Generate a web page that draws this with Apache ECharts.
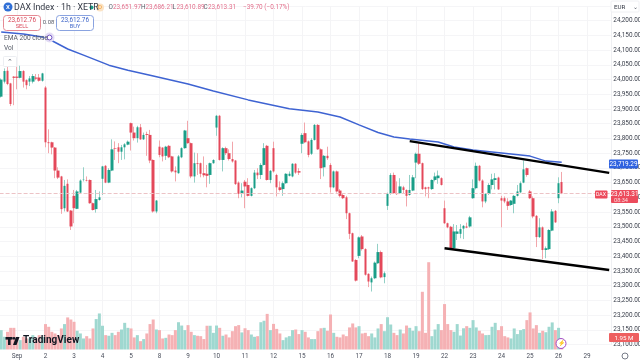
<!DOCTYPE html>
<html lang="en" style="height: 100%">
<head>
  <meta charset="utf-8">
</head>
<body style="height: 100%; margin: 0; background: #fff">
  <div id="container" style="width: 640px; height: 362px"></div>

  <script type="text/javascript" src="https://cdn.jsdelivr.net/npm/echarts@6/dist/echarts.min.js"></script>

  <script type="text/javascript">
    // hourly candles, 29 Aug to 26 Sep
    const opens = [23942,23993,24030,23987,24010,24010,24006,24029,23998,23993,23993,24007,24007,23996,23973,23787,23787,23769,23691,23671,23563,23646,23555,23605,23561,23616,23659,23658,23659,23580,23560,23591,23663,23707,23650,23691,23767,23770,23755,23770,23779,23852,23820,23801,23838,23797,23815,23812,23727,23552,23772,23769,23741,23775,23739,23691,23682,23736,23767,23801,23784,23671,23716,23716,23682,23680,23676,23716,23837,23877,23727,23767,23750,23730,23725,23650,23612,23653,23642,23605,23631,23684,23676,23710,23775,23659,23767,23676,23634,23628,23648,23673,23671,23714,23689,23782,23818,23790,23748,23795,23846,23763,23702,23741,23710,23634,23688,23623,23608,23600,23546,23478,23387,23401,23467,23424,23340,23311,23325,23376,23414,23329,23571,23612,23676,23614,23614,23634,23625,23608,23623,23718,23748,23716,23634,23634,23628,23659,23665,23665,23563,23512,23500,23427,23476,23476,23494,23501,23501,23597,23631,23707,23657,23586,23612,23642,23659,23667,23597,23597,23586,23574,23578,23605,23617,23650,23699,23620,23597,23537,23465,23498,23421,23424,23487,23554,23597,23651.97];
    const closes = [24000,24029,23985,23917,24006,24006,24029,23993,23981,24004,24012,24003,23996,24021,23787,23784,23769,23691,23667,23560,23639,23552,23501,23563,23620,23657,23660,23656,23580,23557,23594,23600,23705,23650,23693,23763,23765,23755,23770,23780,23789,23820,23801,23838,23797,23812,23812,23725,23552,23589,23744,23739,23772,23736,23688,23685,23739,23767,23827,23784,23671,23716,23713,23680,23675,23673,23716,23727,23877,23727,23767,23750,23730,23722,23645,23612,23623,23637,23605,23631,23684,23675,23710,23767,23659,23690,23688,23634,23625,23648,23680,23680,23714,23684,23684,23812,23787,23744,23795,23846,23763,23699,23741,23733,23634,23688,23620,23605,23597,23546,23476,23382,23317,23464,23424,23337,23314,23325,23378,23414,23328,23342,23612,23676,23614,23611,23637,23625,23605,23625,23668,23748,23714,23628,23628,23630,23659,23671,23674,23642,23512,23498,23427,23484,23484,23492,23503,23497,23532,23631,23707,23657,23586,23612,23642,23661,23665,23627,23589,23586,23571,23589,23605,23620,23648,23695,23676,23597,23535,23465,23498,23421,23427,23489,23552,23515,23648,23613.31];
    const lows = [23939,23987,23981,23910,23913,23967,24004,23973,23967,23978,23987,23998,23993,23993,23770,23750,23746,23665,23662,23544,23552,23550,23489,23512,23560,23614,23654,23654,23578,23555,23548,23589,23608,23648,23648,23689,23727,23716,23727,23729,23777,23759,23793,23786,23795,23795,23741,23716,23548,23546,23736,23722,23727,23733,23684,23654,23680,23733,23765,23782,23665,23650,23676,23668,23668,23634,23646,23714,23809,23725,23688,23744,23725,23718,23642,23597,23600,23563,23603,23603,23628,23662,23662,23708,23657,23648,23684,23603,23620,23605,23646,23671,23668,23680,23676,23750,23784,23736,23744,23793,23761,23662,23671,23727,23616,23631,23616,23600,23594,23526,23458,23381,23314,23393,23419,23334,23295,23280,23322,23374,23325,23308,23557,23609,23612,23608,23612,23614,23569,23606,23621,23665,23710,23625,23603,23597,23625,23654,23646,23640,23509,23495,23426,23425,23455,23461,23458,23495,23497,23595,23627,23654,23566,23580,23608,23627,23627,23625,23498,23580,23557,23571,23546,23603,23614,23648,23670,23594,23529,23431,23462,23390,23393,23421,23485,23513,23580,23610.89];
    const highs = [24004,24038,24049,23989,24012,24044,24047,24032,24001,24012,24019,24019,24019,24023,23978,23831,23789,23771,23702,23673,23659,23661,23557,23625,23625,23661,23702,23671,23661,23582,23625,23620,23707,23710,23699,23797,23790,23784,23778,23784,23793,23854,23840,23843,23849,23820,23823,23829,23729,23591,23793,23770,23775,23778,23741,23705,23744,23770,23829,23860,23786,23752,23750,23718,23739,23710,23718,23729,23880,23880,23770,23772,23763,23789,23727,23654,23648,23659,23665,23634,23693,23699,23716,23784,23778,23693,23789,23680,23654,23654,23682,23688,23716,23716,23699,23818,23854,23793,23801,23849,23849,23766,23744,23772,23716,23691,23691,23628,23614,23605,23548,23480,23390,23467,23472,23427,23342,23331,23382,23442,23419,23348,23616,23682,23684,23654,23665,23639,23627,23676,23676,23752,23784,23718,23636,23636,23661,23684,23691,23668,23589,23514,23503,23509,23506,23509,23506,23514,23537,23661,23718,23710,23661,23614,23648,23680,23682,23670,23605,23603,23597,23591,23608,23642,23654,23725,23701,23625,23603,23540,23529,23501,23433,23492,23560,23557,23668,23686.21];
    // volume in millions
    const volumes = [9.3,6.1,8.5,10.4,10.4,6.1,4.5,6.1,5.3,5.3,6.9,5.3,6.9,6.1,12.2,10.9,8.5,7.7,6.9,10.1,12.2,15.4,14.4,13.3,9.0,7.7,5.3,6.4,5.3,10.1,14.6,17.3,11.4,6.9,6.6,8.0,6.9,8.5,9.6,12.8,10.4,10.1,5.8,6.9,4.0,5.0,7.7,12.2,14.4,9.6,9.3,5.3,5.6,7.2,6.9,9.3,13.1,11.5,9.3,11.7,8.5,6.9,6.6,6.4,5.0,11.4,11.4,8.0,11.5,10.4,6.6,7.2,5.8,8.8,11.2,11.7,8.2,10.2,9.3,7.2,6.1,6.4,13.1,13.8,17.1,9.3,12.3,9.9,7.7,4.5,5.8,6.4,9.3,9.6,7.4,9.3,8.5,5.8,5.0,5.0,8.8,10.2,10.4,9.0,16.8,8.0,6.1,5.8,7.2,6.4,10.6,12.5,10.6,11.2,7.7,8.0,6.4,7.7,5.8,10.1,12.2,8.8,15.5,12.0,8.0,6.9,9.6,7.7,11.5,10.4,9.0,11.2,8.8,27.7,8.0,41.9,6.4,9.6,12.2,9.3,21.8,12.2,9.3,8.5,12.2,6.7,10.2,11.2,10.4,14.1,10.6,9.0,7.7,6.9,7.0,10.9,12.8,9.3,11.2,6.4,5.8,5.3,10.1,7.4,9.3,9.8,14.1,17.8,10.1,11.7,8.0,9.0,8.3,10.9,13.0,9.3,10.4,1.95];
    const emaIdx = [0,7,13,15,21,26,34,40,47,59,67,78,91,100,107,113,119,124,129,138,143,149,161,167,172,177];
    const emaVals = [24162,24155,24145,24138,24104,24083,24049,24032,24015,23985,23961,23931,23901,23890,23873,23846,23820,23805,23798,23788,23771,23761,23747,23740,23723,23719.29];
    // first bar of each session, and the label under it
    const tickIdx = [5,14,23,32,41,50,59,68,77,86,95,104,113,122,131,140,149,158,167,176,185];
    const tickText = ['Sep','2','3','4','5','8','9','10','11','12','15','16','17','18','19','22','23','24','25','26','29'];
    const channelTop = [[129,23791],[192,23683]];
    const channelBottom = [[140,23427],[192,23353]];
    const slotCount = 193;

    const FONT = 'Roboto';
    const UP = '#1a9e88', DOWN = '#e4485a';

    const categories = [];
    for (let i = 0; i < slotCount; i++) {
      const k = tickIdx.indexOf(i);
      categories.push(k >= 0 ? tickText[k] : '');
    }
    const isTick = (i, v) => v !== '';

    const wicks = opens.map((o, i) => [o, closes[i], lows[i], highs[i]]);
    const bodies = opens.map((o, i) => [o, closes[i], Math.min(o, closes[i]), Math.max(o, closes[i])]);
    const volBars = volumes.map((v, i) => ({
      value: v,
      itemStyle: { color: closes[i] >= opens[i] ? '#9fd8d0' : '#f5b1b4' }
    }));
    const emaLine = emaIdx.map((x, i) => [x, emaVals[i]]);

    function txt(x, y, text, fill, size, extra) {
      return {
        type: 'text', x: x, y: y, z: 50, silent: true,
        style: Object.assign({ text: text, fill: fill, fontFamily: FONT, fontSize: size, textVerticalAlign: 'middle' }, extra || {})
      };
    }
    function box(x, y, w, h, fill, stroke, r, z) {
      return {
        type: 'rect', z: z || 49, silent: true,
        shape: { x: x, y: y, width: w, height: h, r: r || 0 },
        style: { fill: fill, stroke: stroke || null, lineWidth: 1 }
      };
    }
    function dot(x, y, r, fill, stroke) {
      return { type: 'circle', z: 49, silent: true, shape: { cx: x, cy: y, r: r }, style: { fill: fill, stroke: stroke || null, lineWidth: 1 } };
    }

    const PINK = '#e2708c', GREY = '#555a66';
    const chrome = [
      // header
      dot(8, 7, 4.5, '#2f6fd6'),
      txt(8, 7.5, 'X', '#fff', 6, { textAlign: 'center', fontWeight: 'bold' }),
      txt(14, 7.5, 'DAX Index · 1h · XETR', '#333844', 8.8),
      dot(91.5, 7.5, 2, '#1a9e88'),
      dot(100, 7.5, 4, '#fbe3c4'),
      txt(100, 7.5, 'D', '#f0982e', 6, { textAlign: 'center' }),
      txt(108.5, 7.5, 'O', GREY, 6.4), txt(113, 7.5, '23,651.97', PINK, 6.4),
      txt(141, 7.5, 'H', GREY, 6.4), txt(145.5, 7.5, '23,686.21', PINK, 6.4),
      txt(172.5, 7.5, 'L', GREY, 6.4), txt(176.5, 7.5, '23,610.89', PINK, 6.4),
      txt(203.5, 7.5, 'C', GREY, 6.4), txt(208, 7.5, '23,613.31', PINK, 6.4),
      txt(243, 7.5, '−39.70 (−0.17%)', PINK, 6.4),
      // sell, buy
      box(3.5, 15.5, 37, 15, '#fff', '#e58a94', 3),
      txt(22, 20, '23,612.76', '#d9485a', 6.4, { textAlign: 'center' }),
      txt(22, 26.5, 'SELL', '#d9485a', 5.6, { textAlign: 'center' }),
      txt(48.5, 22.5, '0.08', GREY, 5.8, { textAlign: 'center' }),
      box(56.5, 15.5, 37, 15, '#fff', '#8aa3e0', 3),
      txt(75, 20, '23,612.76', '#3f66c9', 6.4, { textAlign: 'center' }),
      txt(75, 26.5, 'BUY', '#3f66c9', 5.6, { textAlign: 'center' }),
      // indicator names
      txt(4, 38, 'EMA 200 close', GREY, 6.6),
      dot(49.5, 37.5, 5, '#e3dcf5'),
      dot(49.5, 37.5, 2.4, '#fff', '#7456c6'),
      txt(4, 48.5, 'Vol', GREY, 6.6),
      box(3.5, 56.5, 13, 10, '#fff', '#eceef2', 1),
      txt(10, 62, '⌃', GREY, 7, { textAlign: 'center' }),
      // price scale
      box(611, 1, 28, 11, '#fff', '#eff0f3', 1),
      txt(614, 7, 'EUR', '#333844', 6.2),
      txt(633, 7, '⌄', GREY, 6),
      box(609, 159.5, 29, 9, '#2f62e0', null, 1),
      txt(623.5, 164.5, '23,719.29', '#fff', 6.4, { textAlign: 'center' }),
      box(595, 190.5, 12.5, 8, '#ec4b5c', null, 1),
      txt(601, 195, 'DAX', '#fff', 5.2, { textAlign: 'center' }),
      box(611, 190, 27, 13, '#ec4b5c', null, 1),
      txt(624.5, 194.5, '23,613.31', '#fff', 6.4, { textAlign: 'center' }),
      txt(614, 200.5, '08:34', '#fbdde0', 5.6),
      box(609, 333, 30, 9, '#ee5f60', null, 1),
      txt(624, 338, '1.95 M', '#fff', 6.2, { textAlign: 'center' }),
      // bottom icons
      dot(561, 343.5, 5, '#fff', '#a24bc4'),
      txt(561, 343.5, '⚡', '#a24bc4', 6, { textAlign: 'center' }),
      dot(625, 356, 3, '#fff', '#777c88'),
      // logo
      box(5.5, 337, 7, 2.6, '#131722', null, 0, 60),
      box(8, 337, 2.6, 8, '#131722', null, 0, 60),
      dot(14, 338.3, 1.4, '#131722'),
      { type: 'polygon', z: 60, silent: true, shape: { points: [[16, 337], [19.5, 337], [16.5, 345], [13, 345]] }, style: { fill: '#131722' } },
      txt(23, 340.5, 'TradingView', '#131722', 10, { fontWeight: 'bold' })
    ];
    chrome[chrome.length - 1].z = 60;

    const dom = document.getElementById('container');
    const myChart = echarts.init(dom, null, { renderer: 'canvas' });

    const option = {
      animation: false,
      backgroundColor: '#fff',
      graphic: chrome,
      grid: [
        { left: -0.4, width: 611.2, top: 6, height: 338.5, outerBoundsMode: 'none' },
        { left: -0.4, width: 611.2, top: 249.5, height: 100, outerBoundsMode: 'none' }
      ],
      xAxis: [
        {
          type: 'category', gridIndex: 0, data: categories, boundaryGap: true,
          axisLine: { show: false }, axisTick: { show: false }, axisLabel: { show: false },
          splitLine: { show: true, interval: isTick, alignWithLabel: true, lineStyle: { color: '#f4f4f6', width: 1 } }
        },
        {
          type: 'category', gridIndex: 1, data: categories, boundaryGap: true,
          axisLine: { show: false }, axisTick: { show: false },
          axisLabel: { interval: isTick, fontFamily: FONT, fontSize: 6.4, color: '#4a4f5c', margin: 4 },
          splitLine: { show: false }
        }
      ],
      yAxis: [
        {
          type: 'value', gridIndex: 0, position: 'right', scale: true,
          min: 23100, max: 24250, interval: 50,
          axisLine: { show: true, lineStyle: { color: '#eff0f3' } },
          axisTick: { show: false },
          axisLabel: {
            showMaxLabel: false, margin: 2.5, fontFamily: FONT, fontSize: 6.4, color: '#3c414d',
            formatter: v => v.toLocaleString('en-US', { minimumFractionDigits: 2 })
          },
          splitLine: { show: true, lineStyle: { color: '#f5f5f7', width: 1 } }
        },
        {
          type: 'value', gridIndex: 1, min: 0, max: 48,
          axisLine: { show: false }, axisTick: { show: false }, axisLabel: { show: false }, splitLine: { show: false }
        }
      ],
      series: [
        {
          name: 'Vol', type: 'bar', xAxisIndex: 1, yAxisIndex: 1, barWidth: 3, z: 1, data: volBars
        },
        {
          name: 'wicks', type: 'candlestick', barWidth: 1, z: 3, data: wicks,
          itemStyle: { color: '#93d0c6', color0: '#f2a6ab', borderColor: '#93d0c6', borderColor0: '#f2a6ab', borderWidth: 1 },
          markLine: {
            silent: true, symbol: 'none', label: { show: false },
            lineStyle: { type: 'dashed', color: '#ecc3c6', width: 1 },
            data: [{ yAxis: closes[closes.length - 1] }]
          }
        },
        {
          name: 'DAX Index', type: 'candlestick', barWidth: 3, z: 4, data: bodies,
          itemStyle: { color: UP, color0: DOWN, borderColor: UP, borderColor0: DOWN, borderWidth: 0 }
        },
        {
          name: 'EMA 200 close', type: 'line', z: 5, showSymbol: false, data: emaLine,
          lineStyle: { color: '#3e63d2', width: 1.5 }
        },
        {
          name: 'channel top', type: 'line', z: 6, showSymbol: false, data: channelTop,
          lineStyle: { color: '#000', width: 2.4 }
        },
        {
          name: 'channel bottom', type: 'line', z: 6, showSymbol: false, data: channelBottom,
          lineStyle: { color: '#000', width: 2.4 }
        }
      ]
    };

    myChart.setOption(option);
    window.addEventListener('resize', myChart.resize);
  </script>
</body>
</html>
